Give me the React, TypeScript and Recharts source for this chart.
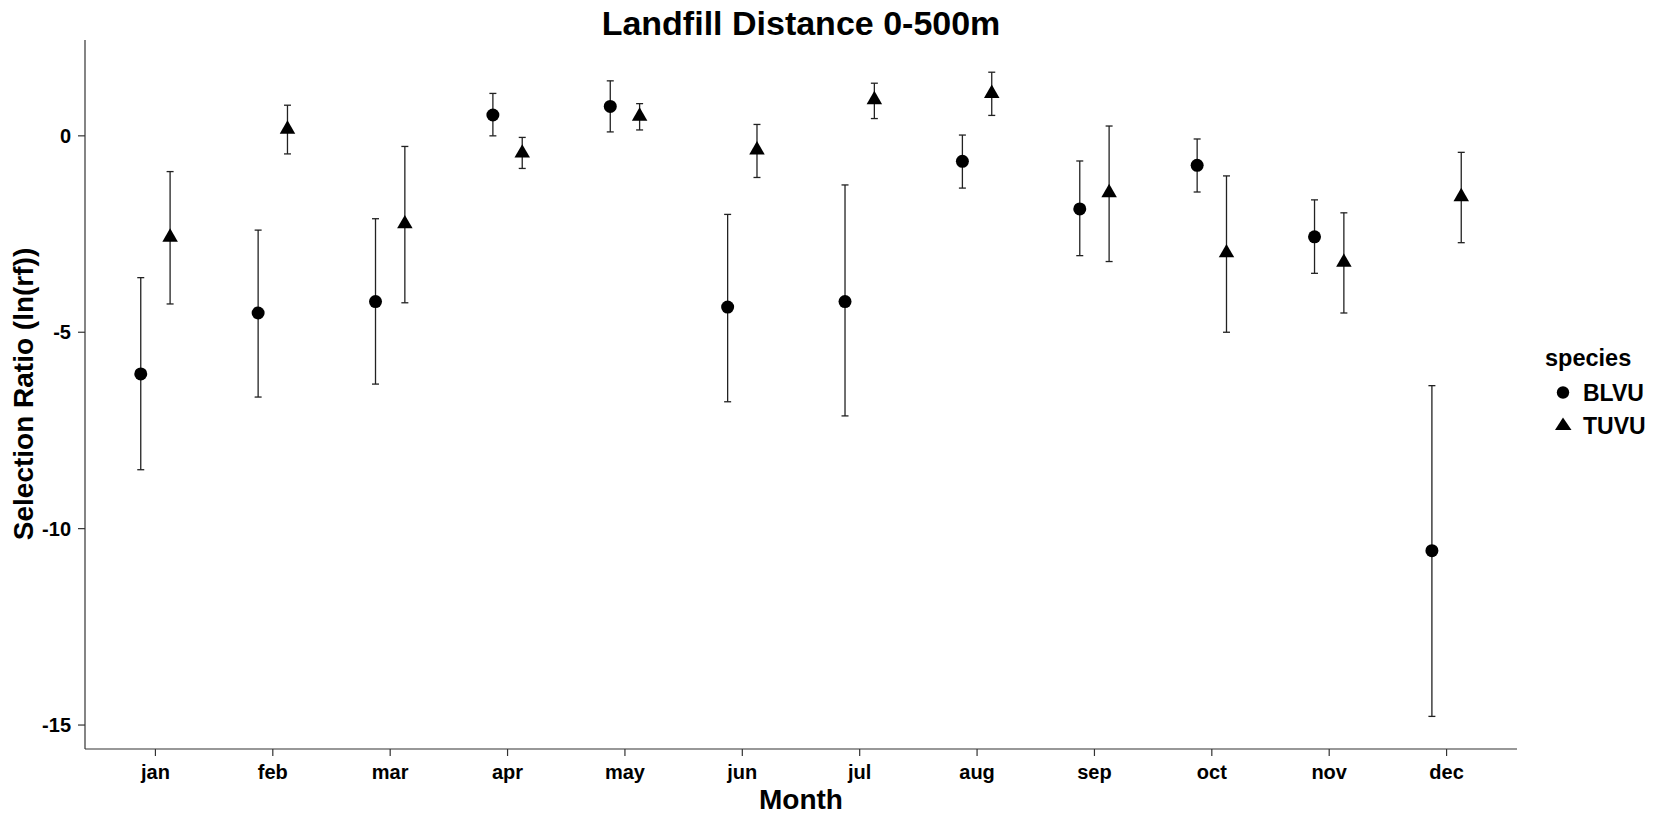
import React from 'react';
import { ScatterChart, Scatter, XAxis, YAxis, ErrorBar, Label } from 'recharts';

const months = ['jan', 'feb', 'mar', 'apr', 'may', 'jun', 'jul', 'aug', 'sep', 'oct', 'nov', 'dec'];

const blvuMean = [-6.06, -4.51, -4.22, 0.53, 0.75, -4.36, -4.22, -0.65, -1.86, -0.75, -2.57, -10.56];
const blvuLow = [-8.5, -6.65, -6.32, 0.0, 0.1, -6.77, -7.13, -1.33, -3.05, -1.43, -3.5, -14.78];
const blvuHigh = [-3.61, -2.4, -2.11, 1.08, 1.4, -2.0, -1.25, 0.02, -0.64, -0.08, -1.63, -6.36];

const tuvuMean = [-2.58, 0.17, -2.24, -0.44, 0.5, -0.36, 0.92, 1.08, -1.45, -2.98, -3.22, -1.55];
const tuvuLow = [-4.28, -0.46, -4.25, -0.83, 0.15, -1.06, 0.44, 0.52, -3.2, -5.0, -4.51, -2.72];
const tuvuHigh = [-0.91, 0.78, -0.27, -0.04, 0.82, 0.29, 1.34, 1.62, 0.25, -1.02, -1.96, -0.42];

const yTicks = [-15, -10, -5, 0];
const monthTicks = months.map((_, i) => i + 1);
const DODGE = 0.125;

const buildSeries = (mean: number[], low: number[], high: number[], shift: number) =>
  months.map((m, i) => ({
    month: m,
    x: i + 1 + shift,
    y: mean[i],
    err: [mean[i] - low[i], high[i] - mean[i]],
  }));

const blvuData = buildSeries(blvuMean, blvuLow, blvuHigh, -DODGE);
const tuvuData = buildSeries(tuvuMean, tuvuLow, tuvuHigh, DODGE);

const FONT = '"Liberation Sans", Arial, sans-serif';

const CircleShape = (props: any) => {
  const { cx, cy } = props;
  if (cx == null || cy == null) return null;
  return <circle cx={cx} cy={cy} r={6.5} fill="#000" />;
};

const TriangleShape = (props: any) => {
  const { cx, cy } = props;
  if (cx == null || cy == null) return null;
  const s = 15.5;
  const h = s * 0.866;
  const pts = `${cx},${cy - (2 * h) / 3} ${cx - s / 2},${cy + h / 3} ${cx + s / 2},${cy + h / 3}`;
  return <polygon points={pts} fill="#000" />;
};

export default function App() {
  return (
    <div style={{ position: 'absolute', left: 0, top: 0, width: 1661, height: 817, background: '#fff', fontFamily: FONT }}>
      <ScatterChart width={1661} height={817} margin={{ top: 40, right: 144, bottom: 0, left: 0 }}>
        <XAxis
          type="number"
          dataKey="x"
          domain={[0.4, 12.6]}
          ticks={monthTicks}
          allowDataOverflow
          tickFormatter={(v: number) => months[v - 1]}
          height={68}
          tickSize={7}
          tickMargin={9}
          axisLine={{ stroke: '#333', strokeWidth: 1.2 }}
          tickLine={{ stroke: '#333', strokeWidth: 1.2 }}
          tick={{ fill: '#000', fontSize: 20, fontWeight: 'bold', fontFamily: FONT }}
        >
          <Label
            content={() => (
              <text x={801} y={809} textAnchor="middle" fontSize={28} fontWeight="bold" fontFamily={FONT} fill="#000">
                Month
              </text>
            )}
          />
        </XAxis>
        <YAxis
          type="number"
          dataKey="y"
          domain={[-15.61, 2.44]}
          ticks={yTicks}
          allowDataOverflow
          width={85}
          tickSize={7}
          tickMargin={7}
          axisLine={{ stroke: '#333', strokeWidth: 1.2 }}
          tickLine={{ stroke: '#333', strokeWidth: 1.2 }}
          tick={{ fill: '#000', fontSize: 20, fontWeight: 'bold', fontFamily: FONT }}
        >
          <Label
            content={() => (
              <text
                x={33}
                y={394}
                transform="rotate(-90 33 394)"
                textAnchor="middle"
                fontSize={28}
                fontWeight="bold"
                fontFamily={FONT}
                fill="#000"
              >
                Selection Ratio (ln(rf))
              </text>
            )}
          />
        </YAxis>
        <Scatter name="BLVU" data={blvuData} shape={CircleShape} isAnimationActive={false}>
          <ErrorBar dataKey="err" direction="y" width={3.5} stroke="#222" strokeWidth={1.3} />
        </Scatter>
        <Scatter name="TUVU" data={tuvuData} shape={TriangleShape} isAnimationActive={false}>
          <ErrorBar dataKey="err" direction="y" width={3.5} stroke="#222" strokeWidth={1.3} />
        </Scatter>
      </ScatterChart>
      <svg width={1661} height={817} style={{ position: 'absolute', left: 0, top: 0, pointerEvents: 'none' }}>
        <text x={801} y={35} textAnchor="middle" fontSize={34} fontWeight="bold" fontFamily={FONT} fill="#000">
          Landfill Distance 0-500m
        </text>
        <text x={1545} y={366} fontSize={23.5} fontWeight="bold" fontFamily={FONT} fill="#000">
          species
        </text>
        <circle cx={1563} cy={392.5} r={6.2} fill="#000" />
        <text x={1583} y={401} fontSize={23} fontWeight="bold" fontFamily={FONT} fill="#000">
          BLVU
        </text>
        <polygon points="1563,417.5 1555,430 1571.5,430" fill="#000" />
        <text x={1583} y={433.5} fontSize={23} fontWeight="bold" fontFamily={FONT} fill="#000">
          TUVU
        </text>
      </svg>
    </div>
  );
}
